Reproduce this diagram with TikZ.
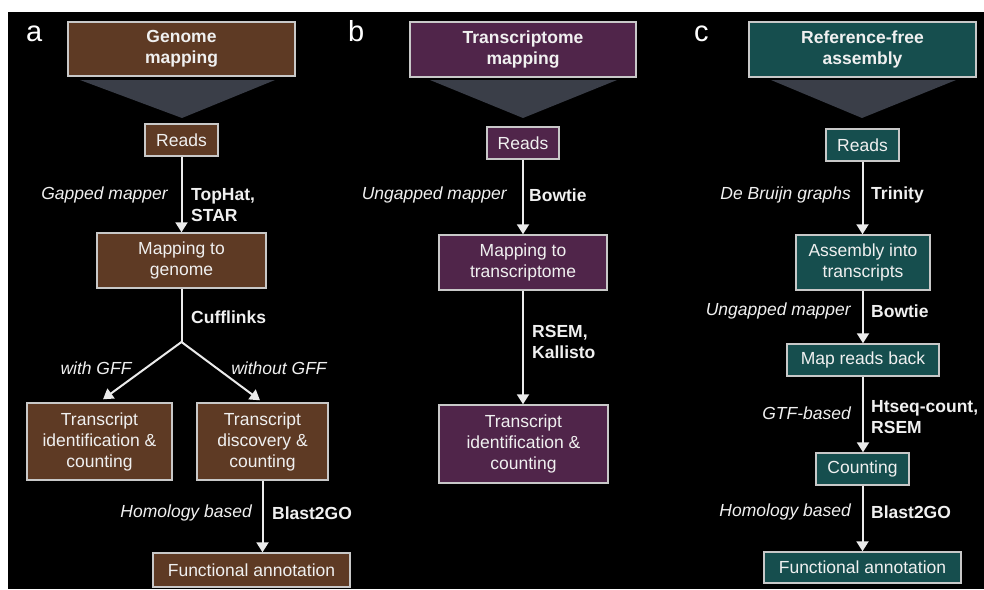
\documentclass[tikz,border=0pt]{standalone}
\usepackage{fontspec}
\setmainfont{Liberation Sans}
\usetikzlibrary{arrows.meta}
\definecolor{brownF}{RGB}{94,58,36}
\definecolor{purpF}{RGB}{80,37,74}
\definecolor{tealF}{RGB}{22,78,78}
\definecolor{triG}{RGB}{58,62,72}
\definecolor{bordC}{RGB}{200,200,200}
\definecolor{arrC}{RGB}{235,235,235}
\definecolor{txtC}{RGB}{240,240,240}
\newcommand\fsz{\fontsize{17.5}{21}\selectfont}
\newcommand\psz{\fontsize{29}{29}\selectfont}
\tikzset{
  box/.style={draw=bordC, line width=1.4pt, text=txtC, font=\fsz, align=center, inner sep=0pt},
  boxA/.style={box, fill=brownF},
  boxB/.style={box, fill=purpF},
  boxC/.style={box, fill=tealF},
  ttl/.style={font=\fsz\bfseries},
  lab/.style={text=txtC, font=\fsz\itshape, inner sep=0pt},
  tool/.style={text=txtC, font=\fsz\bfseries, align=left, inner sep=0pt},
  arr/.style={draw=arrC, line width=2pt, -{Triangle[width=12pt,length=10pt]}},
  ln/.style={draw=arrC, line width=2pt},
  tri/.style={fill=triG},
  panel/.style={text=white, font=\psz, inner sep=0pt}
}
\begin{document}
\begin{tikzpicture}[x=1pt,y=-1pt]
\useasboundingbox (0,0) rectangle (984,589);
\fill[white] (0,0) rectangle (984,589);
\fill[black] (8,12) rectangle (984,589);

% ---------- panel a ----------
\node[panel, anchor=base west] (pa) at (26,41) {a};
\fill[tri] (80,80) -- (275,80) -- (182,118) -- cycle;
\node[boxA, ttl, minimum width=227pt, minimum height=54pt] (ga) at (181.5,49) {Genome\\mapping};
\node[boxA, minimum width=73pt, minimum height=32pt] (ra) at (181.5,140) {Reads};
\node[boxA, minimum width=169pt, minimum height=55pt] (ma) at (181.5,260.5) {Mapping to\\genome};
\coordinate (bra) at (181.5,342);
\node[boxA, minimum width=145pt, minimum height=77pt] (tla) at (99.5,441.5) {Transcript\\identification \&\\counting};
\node[boxA, minimum width=131pt, minimum height=77pt] (tra) at (262.5,441.5) {Transcript\\discovery \&\\counting};
\node[boxA, minimum width=197pt, minimum height=34pt] (faa) at (251.5,570) {Functional annotation};

\draw[arr] (ra.south) -- (ra.south |- ma.north);
\draw[ln] (ma.south) -- (bra);
\draw[arr] (bra) -- ([xshift=3.5pt,yshift=3pt]tla.north);
\draw[arr] (bra) -- ([xshift=-2.5pt,yshift=2pt]tra.north);
\draw[arr] (tra.south) -- (tra.south |- faa.north);

\node[lab, anchor=east] (la1) at (168,195) {Gapped mapper};
\node[tool, anchor=west] (ta1) at (191,205) {TopHat,\\STAR};
\node[tool, anchor=west] (ta2) at (191,317) {Cufflinks};
\node[lab] (la2) at (96,368) {with GFF};
\node[lab] (la3) at (279,368) {without GFF};
\node[lab, anchor=east] (la4) at (252,513) {Homology based};
\node[tool, anchor=west] (ta3) at (272,513) {Blast2GO};

% ---------- panel b ----------
\node[panel, anchor=base west] (pb) at (348,41) {b};
\fill[tri] (430,80) -- (617,80) -- (523,118) -- cycle;
\node[boxB, ttl, minimum width=226pt, minimum height=55pt] (tb) at (523,49.5) {Transcriptome\\mapping};
\node[boxB, minimum width=72pt, minimum height=32pt] (rb) at (523,143) {Reads};
\node[boxB, minimum width=168pt, minimum height=55pt] (mb) at (523,262.5) {Mapping to\\transcriptome};
\node[boxB, minimum width=169pt, minimum height=78pt] (tib) at (523.5,444) {Transcript\\identification \&\\counting};

\draw[arr] (rb.south) -- (rb.south |- mb.north);
\draw[arr] (mb.south) -- (mb.south |- tib.north);

\node[lab, anchor=east] (lb1) at (507,195) {Ungapped mapper};
\node[tool, anchor=west] (tb1) at (529,195) {Bowtie};
\node[tool, anchor=west] (tb2) at (532,342) {RSEM,\\Kallisto};

% ---------- panel c ----------
\node[panel, anchor=base west] (pc) at (694,41) {c};
\fill[tri] (771,80) -- (956,80) -- (862,118) -- cycle;
\node[boxC, ttl, minimum width=227pt, minimum height=55pt] (tc) at (862.5,49.5) {Reference-free\\assembly};
\node[boxC, minimum width=73pt, minimum height=32pt] (rc) at (862.5,145) {Reads};
\node[boxC, minimum width=134pt, minimum height=55pt] (ac) at (863,262.5) {Assembly into\\transcripts};
\node[boxC, minimum width=152pt, minimum height=32pt] (mc) at (863,360) {Map reads back};
\node[boxC, minimum width=93pt, minimum height=32pt] (cc) at (862.5,469) {Counting};
\node[boxC, minimum width=197pt, minimum height=31pt] (fc) at (862.5,567.5) {Functional annotation};

\draw[arr] (rc.south) -- (rc.south |- ac.north);
\draw[arr] (ac.south) -- (ac.south |- mc.north);
\draw[arr] (mc.south) -- (mc.south |- cc.north);
\draw[arr] (cc.south) -- (cc.south |- fc.north);

\node[lab, anchor=east] (lc1) at (851,195) {De Bruijn graphs};
\node[tool, anchor=west] (tc1) at (871,195) {Trinity};
\node[lab, anchor=east] (lc2) at (851,311) {Ungapped mapper};
\node[tool, anchor=west] (tc2) at (871,311) {Bowtie};
\node[lab, anchor=east] (lc3) at (851,413) {GTF-based};
\node[tool, anchor=west] (tc3) at (871,417) {Htseq-count,\\RSEM};
\node[lab, anchor=east] (lc4) at (851,512) {Homology based};
\node[tool, anchor=west] (tc4) at (871,512) {Blast2GO};
\end{tikzpicture}
\end{document}
